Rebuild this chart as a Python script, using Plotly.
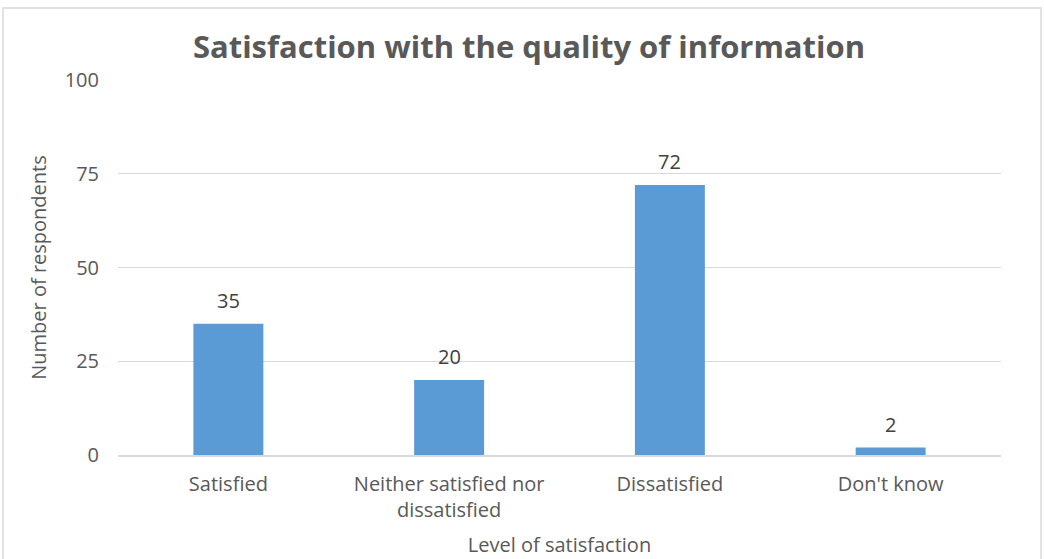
import plotly.graph_objects as go

categories = ["Satisfied", "Neither satisfied nor<br>dissatisfied", "Dissatisfied", "Don't know"]
respondents = [35, 20, 72, 2]
y_ticks = [0, 25, 50, 75, 100]

TEXT = "#595959"
FONT = "Open Sans, Noto Sans, sans-serif"

fig = go.Figure(
    go.Bar(
        x=categories,
        y=respondents,
        marker=dict(color="#5B9BD5", line=dict(width=0)),
        cliponaxis=False,
    )
)

# value labels above each bar
for cat, val in zip(categories, respondents):
    fig.add_annotation(
        x=cat, y=val, xref="x", yref="y",
        text=str(val), showarrow=False,
        yanchor="bottom", yshift=8,
        font=dict(size=20, color="#404040", family=FONT),
    )

fig.update_layout(
    width=1044,
    height=559,
    margin=dict(l=118, r=43, t=80, b=104),
    paper_bgcolor="white",
    plot_bgcolor="white",
    bargap=0.683,
    showlegend=False,
    font=dict(family=FONT, color=TEXT, size=20),
    title=dict(
        text="<b>Satisfaction with the quality of information</b>",
        x=529 / 1044, xref="container", xanchor="center",
        y=1 - 47 / 559, yref="container", yanchor="middle",
        font=dict(size=31, color=TEXT, family=FONT),
    ),
    xaxis=dict(
        title=dict(text="Level of satisfaction", font=dict(size=20, color=TEXT), standoff=16),
        automargin=False,
        showgrid=False,
        showline=True, linecolor="#D9D9D9", linewidth=1.5,
        ticks="", tickfont=dict(size=20, color=TEXT),
        ticklabelstandoff=10,
    ),
    yaxis=dict(
        title=dict(text="Number of respondents", font=dict(size=20, color=TEXT), standoff=12),
        automargin=False,
        range=[0, 100],
        tickvals=y_ticks,
        showgrid=True, gridcolor="#D9D9D9", gridwidth=1,
        zeroline=False, showline=False,
        ticks="", tickfont=dict(size=20, color=TEXT),
        ticklabelstandoff=18,
    ),
    shapes=[
        dict(
            type="rect", xref="paper", yref="paper",
            x0=-0.1302, x1=1.0453, y0=-0.29, y1=1.192,
            line=dict(color="#D9D9D9", width=1.5),
            fillcolor="rgba(0,0,0,0)", layer="below",
        )
    ],
)

fig.write_html("out.html")
